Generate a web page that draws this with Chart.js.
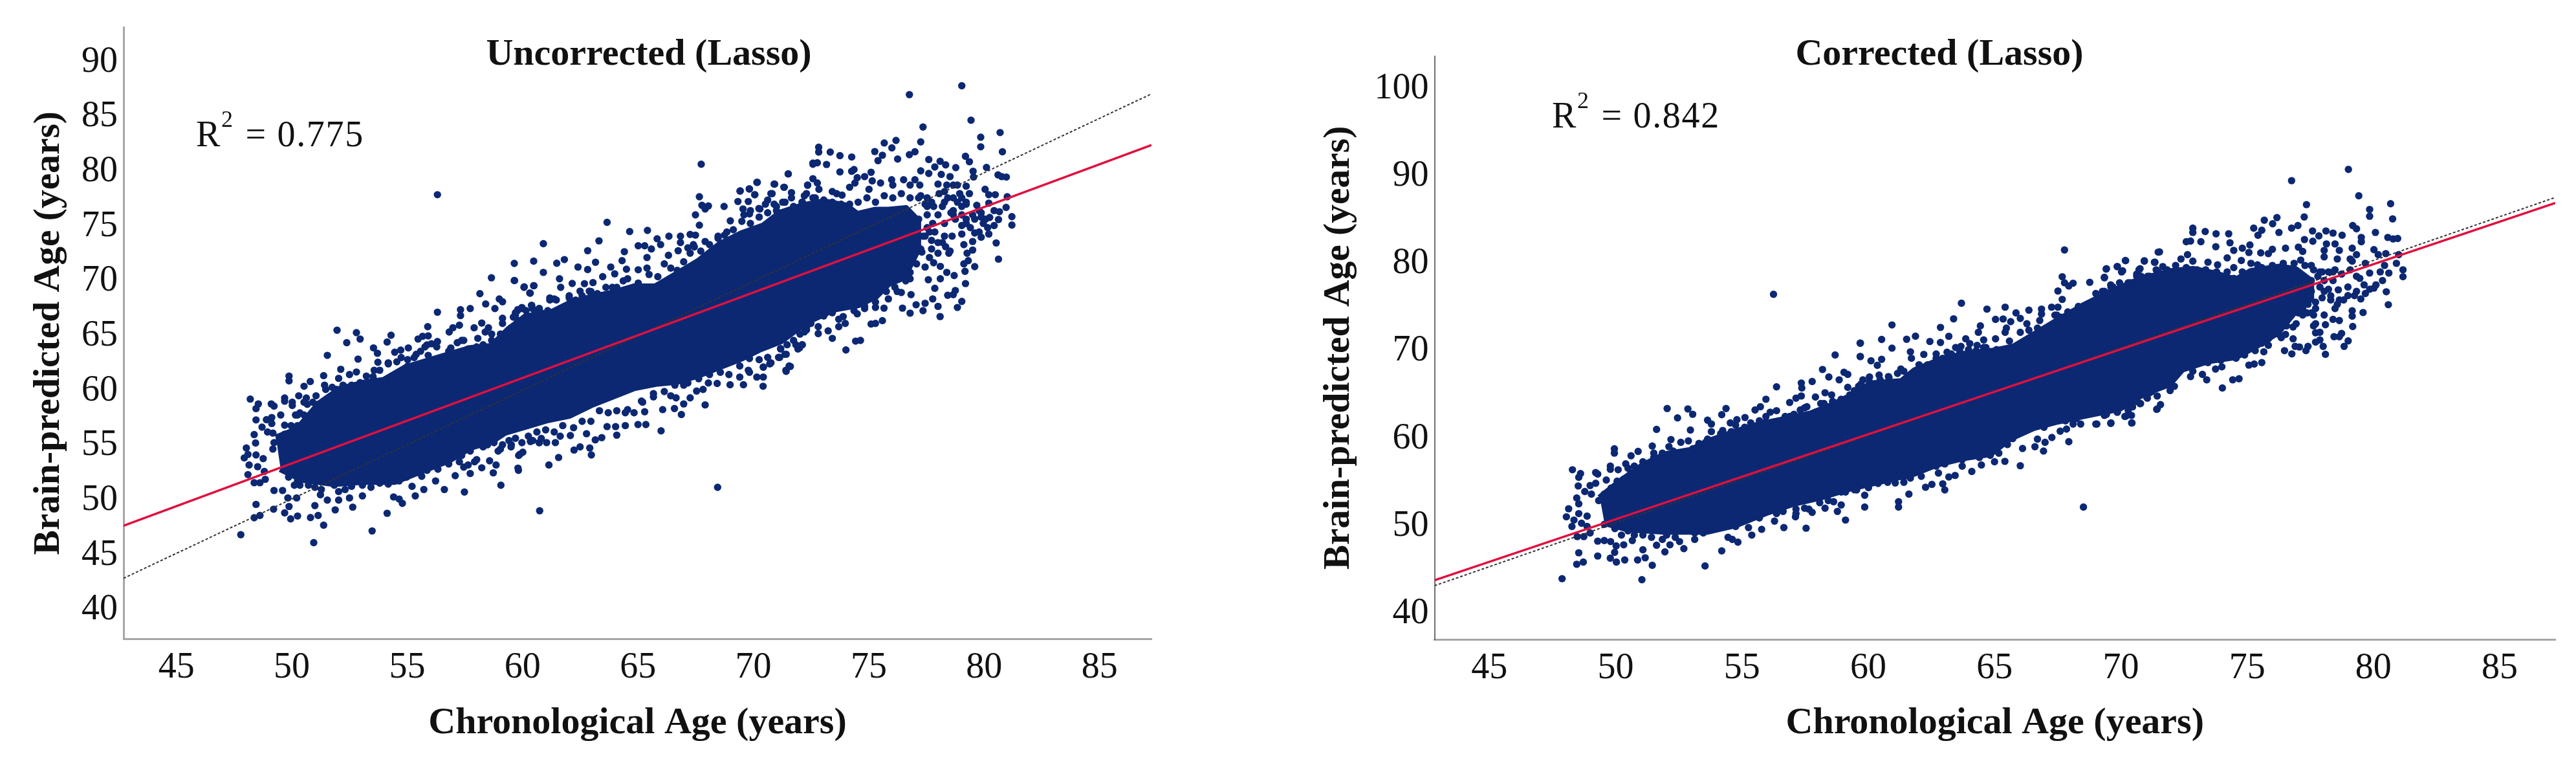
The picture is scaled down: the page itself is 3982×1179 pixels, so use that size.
<!DOCTYPE html>
<html><head><meta charset="utf-8">
<script src="https://cdn.jsdelivr.net/npm/chart.js@4/dist/chart.umd.min.js"></script>
<style>
html,body{margin:0;padding:0;background:#fff;width:3982px;height:1179px;overflow:hidden}
canvas{position:absolute;top:0;display:block}
</style></head><body>
<canvas id="left" width="1800" height="1179" style="left:0"></canvas>
<canvas id="right" width="1982" height="1179" style="left:2000px"></canvas>
<script>
// Where thousands of dots merge into a solid mass,
// the mass is recorded as its read upper and lower edges; visible separate dots are listed one by one.
const xTicks=[45,50,55,60,65,70,75,80,85];
const yTicksLeft=[40,45,50,55,60,65,70,75,80,85,90];
const yTicksRight=[40,50,60,70,80,90,100];
const xTitle="Chronological Age (years)";
const yTitle="Brain-predicted Age (years)";
const titleLeft="Uncorrected (Lasso)";
const titleRight="Corrected (Lasso)";
const r2Left="0.775";
const r2Right="0.842";

const fitLeft=[[42.71,47.69],[87.25,82.43]];
const identityLeft=[[42.71,42.9],[87.25,87.1]];
const fitRight=[[42.83,43.82],[87.2,86.93]];
const identityRight=[[42.83,43.2],[87.2,87.57]];

const massUpperLeft=[[49.32,55.66],[50.25,56.44],[51.19,58.77],[52.12,60.13],[53.24,60.71],[53.99,60.91],[54.93,62.07],[55.86,62.65],[56.8,63.24],[57.73,63.82],[58.66,64.01],[59.41,65.57],[60.15,66.74],[61.09,66.93],[62.02,67.9],[62.96,68.48],[63.89,68.87],[64.83,69.45],[65.76,69.45],[66.7,70.62],[67.63,71.78],[68.57,73.34],[69.5,74.31],[70.43,75],[71.18,76.2],[72.11,76.83],[73.05,77.22],[74,76.83],[74.5,76.06],[75.3,76.45],[75.85,76.45],[76.6,76.6],[77.1,75.5]];
const massLowerLeft=[[49.51,52.94],[50.44,51.97],[51.84,51.58],[53.06,51.78],[54.46,51.78],[55.86,52.94],[56.8,53.72],[57.73,54.89],[58.66,55.47],[59.22,56.25],[60.15,56.83],[61.09,57.41],[62.02,57.8],[62.96,58.77],[63.89,59.55],[64.83,60.33],[65.76,60.72],[66.7,60.91],[67.63,61.49],[68.57,62.27],[69.5,63.05],[70.24,63.82],[71.18,64.6],[72.3,66.35],[73.5,67.5],[74.55,67.9],[75.3,68.68],[75.85,69.84],[76.5,70.4],[77.1,72.9]];
const massUpperRight=[[49.38,53.17],[50.23,55.14],[51.08,56.87],[51.94,58.1],[52.96,58.6],[53.64,59.58],[54.84,60.81],[55.69,61.55],[56.54,62.05],[57.74,62.79],[58.59,63.77],[59.28,64.76],[60.13,66.23],[61.33,66.48],[61.84,67.71],[62.86,68.94],[63.97,69.68],[64.91,69.93],[65.76,70.42],[66.62,71.9],[67.47,73.38],[68.5,75.1],[69.52,76.59],[70.72,78.07],[72,79.06],[72.85,79.3],[73.7,78.81],[74.56,78.07],[75.15,79.06],[76.26,79.55],[76.9,79.3],[77.5,78]];
const massLowerRight=[[49.55,50.46],[50.49,49.72],[51.94,49.47],[53.64,49.47],[54.75,50.21],[56.03,51.69],[57.06,52.68],[58.17,53.42],[59.28,54.4],[60.39,55.14],[61.84,56.12],[62.69,57.11],[63.72,57.85],[64.83,58.34],[65.59,60.07],[66.53,61.3],[67.47,62.04],[68.67,62.78],[69.95,63.52],[70.89,65.2],[71.91,66.3],[72.42,68],[73.45,68.95],[74.56,69.44],[75.32,70.6],[76.2,72.2],[77,75],[77.5,76]];

const dotsLeft=[[47.79,46.87],[50.95,46.15],[53.48,47.22],[51.38,47.74],[48.37,48.42],[48.62,48.63],[48.45,49.64],[49.21,49.2],[49.69,48.87],[49.95,48.32],[49.88,49.45],[50.25,48.58],[50.81,48.44],[51.14,48.63],[51,49.53],[51.88,49.14],[52.64,49.39],[54.13,48.83],[60.74,49.06],[51.54,50.03],[52.03,50.03],[52.5,50.23],[53.06,50.42],[54.41,50.32],[54.79,49.74],[54.65,50.13],[55.35,50.42],[55.72,51],[55.21,51.29],[56.61,51],[57.48,50.77],[59.06,51.39],[59.82,52.75],[58.73,52.52],[58.23,52.98],[57.73,52.46],[57.08,52.26],[56.23,51.78],[55.63,52.2],[54.97,52.13],[49.23,50.91],[49.6,50.91],[49.83,50.23],[50.21,50.23],[51.24,50.52],[50.25,51.78],[49.86,52.13],[48.85,51.93],[48.62,51.62],[48.37,51.62],[48.1,52.36],[48.81,52.65],[48.52,53.08],[48.15,53.24],[47.94,53.88],[48.1,54.2],[48.03,54.79],[48.45,54.15],[48.76,53.82],[48.43,55.24],[48.37,56.01],[48.71,56.69],[48.45,57.35],[48.95,56.25],[49.18,56.15],[49.13,57.02],[48.9,57.37],[49.13,57.57],[49.52,57.8],[49.69,56.87],[48.45,58.38],[48.55,58.81],[48.2,59.25],[49.11,58.81],[49.23,58.61],[49.69,59.35],[49.69,59.06],[50.02,58.96],[50.02,58.67],[49.88,61.35],[49.88,60.91],[50.3,59.55],[50.53,60.42],[50.8,60.85],[50.63,59.35],[51.05,59.55],[50.25,57.8],[51.42,60.52],[51.38,61.39],[51.54,63.24],[51.96,65.53],[52.38,64.4],[52.8,65.31],[52.96,64.73],[52.87,62.9],[52.12,61.97],[52.03,61.14],[52.5,61.49],[52.8,61.72],[52.96,60.75],[53.23,61.35],[53.54,63.92],[53.71,63.43],[53.73,62.61],[54.13,64.46],[54.3,65.08],[53.57,61.88],[54.18,62.56],[54.46,63.53],[54.72,63.72],[55.05,63.92],[55.02,62.85],[55.47,64.73],[55.67,64.98],[55.91,65.02],[55.89,65.86],[56.31,67.18],[56.31,64.5],[55.86,64.2],[55.39,63.33],[55.91,63.24],[56.82,65.37],[56.98,65.76],[57.26,65.99],[57.31,67.41],[57.31,66.87],[57.73,67.51],[58.15,68.87],[58.4,67.93],[57.9,65.76],[58.23,66.19],[58.06,64.79],[58.52,65.76],[58.8,67.51],[58.99,68.38],[59.13,68.13],[59.13,66.63],[59.65,70.07],[58.65,70.32],[60.07,69.49],[60.49,69.59],[60.33,68.91],[59.79,67.41],[59.79,66.44],[60.39,67.8],[57.36,64.6],[56.89,63.92],[58.94,54.5],[58.57,53.62],[58.85,53.24],[57.92,53.53],[57.45,53.04],[59.88,54.21],[60.72,55.27],[60.35,55.47],
[56.31,77.9],[67.74,80.68],[71.51,79.8],[70.15,79.03],[70.9,78.87],[69.43,78.25],[69.83,78.42],[72.58,80.68],[67.66,77.71],[70.06,77.9],[69.33,77.28],[69.78,77.28],[71.34,78.58],[71.65,78.09],[70.81,78],[70.62,77.41],[72.35,78.77],[72.21,77.8],[72.38,76.87],[68.73,76.83],[67.77,76.93],[68.05,76.87],[67.91,76.6],[67.49,76.06],[67.66,75.12],[69,75.51],[69.55,76.6],[69.83,76.15],[70.28,76.6],[71,76.83],[71.37,77.22],[63.66,75.38],[60.9,73.43],[63.31,73.69],[62.82,72.79],[64.64,74.54],[65.41,74.64],[66.34,74.11],[65.83,73.88],[66.84,74.11],[66.84,73.53],[67.26,74.27],[67.49,74.21],[65.01,73.24],[65.29,73.24],[65.58,72.95],[65.98,73.34],[64.41,72.7],[64.31,71.88],[59.64,71.63],[60.48,71.84],[61.48,71.65],[61.81,71.98],[62.4,71.3],[62.82,71.07],[63.16,71.73],[60.9,70.81],[59.64,70.07],[60.06,69.45],[60.48,69.59],[60.31,68.93],[61.6,70.23],[61.65,69.45],[62.15,69.8],[62.68,69.78],[63.05,69.88],[62.49,69.1],[62.89,69.1],[63.82,71.3],[63.47,70.42],[63.99,70.68],[64.5,71.1],[65.01,71.05],[65.39,72.17],[66.32,72.37],[66.74,72.79],[67.16,73.05],[67.4,73.34],[67.91,73.63],[68.47,74.11],[68.75,74.21],[61.37,68.39],[61.18,68.48],[62.02,68.68],[59.97,67.61],[60.39,67.8],[60.72,67.51],
[61.14,53.24],[59.8,52.95],[61.56,53.92],[62.98,54.15],[62.91,54.79],[62.49,54.89],[62.23,54.6],[59.83,54.11],[60.01,54.4],[66,56.35],[63.43,55.73],[63.15,55.53],[64.08,55.96],[62.77,56.09],[62.07,55.92],[61.63,55.86],[61.42,55.28],[61.04,55.28],[60.72,55.28],[60.34,55.38],[59.5,54.89],[63.66,56.74],[64.03,56.74],[64.45,56.83],[65.34,56.93],[65,56.93],[66.88,57.84],[66.58,58.39],[66.07,58.29],[67.91,58.72],[66.98,58.81],[67.26,59.36],[66.65,59.36],[66.42,59.55],[65.29,58.09],[64.55,58.29],[65.15,59.07],[65.67,59.45],[67.54,59.98],[67.82,60.13],[68.99,60.56],[69.57,60.56],[70.42,60.42],[68.43,60.68],[68.05,60.72],[66.98,60.52],[70.15,61.26],[70.43,61.26],[69.41,61.26],[71.42,61.78],[71.6,62.23],[69.83,61.69],[70.43,62.17],[70.76,62.56],[69.83,62.95],[71.14,63.05],[71.42,63.34],[71.18,63.86],[71.93,63.82],[72.12,64.21],[72.3,65.57],
[79.03,87.84],[76.76,87.03],[79.43,84.7],[77.35,84.08],[79.85,83.15],[80.69,83.57],[79.85,82.27],[77.25,82.72],[76.18,82.85],[75.67,82.62],[76,82.17],[80.79,81.82],[77,81.82],[76.76,81.55],[75.26,81.84],[75.59,81.5],[75.4,81.01],[76.25,81.15],[72.83,82.23],[72.83,81.79],[73.33,81.79],[73.75,81.46],[74.26,81.34],[72.58,80.78],[72.77,80.81],[73.17,80.66],[73.75,79.98],[71.51,79.8],[74.36,80.19],[74.26,80.04],[79.19,81.4],[79.36,80.91],[77.6,81.11],[78.09,80.95],[78.33,80.62],[77.86,80.43],[78.77,80.37],[77.25,80.08],[77.6,79.84],[80.1,80.39],[79.52,80.04],[79.54,79.51],[80.6,79.71],[80.76,79.55],[80.96,79.51],[70.17,79.03],[70.92,78.87],[69.82,78.43],[69.42,78.23],[71.32,78.58],[70.76,78],[70.06,77.9],[72.35,78.78],[72.58,79.36],[72.77,78.97],[72.84,78.39],[73.42,78.19],[73.84,77.86],[73.61,77.99],[74.5,79.46],[75.1,79.94],[74.82,79.55],[75.15,79.16],[74.17,78.58],[74.4,78.97],[75.51,78.97],[75.99,79.26],[76.51,79.26],[77,79.26],[77.21,78.78],[76.04,78.78],[76.79,78.78],[78.14,79.75],[78.52,79.55],[78,78.87],[78.38,78.78],[78.66,78.78],[79.22,78.68],[80.04,78.39],[80.2,77.9],[80.48,77.9],[81,77.71],[79.36,78],[78.05,78],[78.42,77.61],[79.03,77.61],[79.03,76.83],[78.66,76.45],[79.68,76.93],[80.2,77.13],[80.95,76.74],[80.43,76.45],[80.66,76.35],[81.2,75.9],[81.2,75.13],[80.24,75.82],[80.62,75.63],[79.87,75.86],[79.96,75.28],[80.43,75.09],[80.2,74.31],[79.87,74.02],[79.59,74.41],[80.52,73.5],[80.62,72.02],[79.5,73.63],[79.03,74.31],[78.61,74.12],[79.12,73.34],[79.5,72.85],[79.26,72.56],[79.31,71.88],[79.59,71.34],[79.12,71.59],[79.17,70.91],[79.19,69.79],[78.7,70.52],[78.38,70.81],[78.1,70.23],[77.58,70.14],[78.1,71.36],[77.81,71.69],[78.75,69.16],[78.66,68.78],[78.42,68.72],[79.03,68.16],[78.84,67.61],[77.86,69.36],[77.77,68.39],[77.44,67.99],[78,67.71],[78.09,66.78],[77.35,67.32],[77.05,67.86],[76.83,68.78],[76.79,67.09],[76.46,67.55],[75.66,67.55],[75.85,68.39],[76.41,68.97],[75.29,67.61],[75.59,66.41],[75.29,66.15],[75.1,66.1],[74.64,64.6],[74.43,64.54],[74.01,63.73],[73.89,66.78],[73.98,66.15],[73.42,64.79],[72.81,65.22],[72.81,65.86],[73.24,65.48],[73.7,65.86],[73.05,66.83],[74.5,67.03],[74.82,67.51],[72,63.92],[72.11,64.21],[71.37,63.34],[71.09,63.05],[71.55,62.27],[71.41,61.88],[70.71,62.46],[70.43,62.17],[77.3,72.66],[76.69,71.98],[77.07,71.59],[77.44,71.3],[76.69,71.01],[76.79,70.23],[76.23,70.81],[76.23,69.07],[77.16,77.61],[77.72,77.03],[77.53,76.06],[78.19,76.83],[77.16,75.67],[77.63,74.5],[78.19,73.53],[78.47,72.56],[77.72,73.73],[77.35,74.12],[78.75,75.67],[78.28,75.28],[79.22,75.28],[79.59,75.67],[79.22,77.03],[78.66,77.61],[77.53,77.61],[79.78,76.45],[68.45,51.2]];

const fringeLeft=[[49.23,55.27],[49.18,54.69],[49.46,55.66],[49.69,56.05],[49.97,56.83],[50.16,57.8],[50.35,57.99],[50.53,57.8],[50.25,56.83],[50.44,56.44],[50.72,57.22],[50.67,58.77],[50.53,58.96],[50.91,58.96],[51.14,58.77],[51.47,60.13],[51.75,60.32],[51.94,60.13],[52.22,60.52],[52.59,60.52],[52.96,60.52],[53.43,60.71],[53.52,61.29],[53.81,61.88],[53.99,60.91],[54.18,62.46],[54.55,62.65],[54.74,63.04],[55.02,62.26],[55.3,63.04],[55.58,63.62],[55.77,64.01],[56.05,64.3],[56.28,64.01],[56.61,63.04],[56.8,63.62],[57.17,64.4],[57.45,64.6],[57.64,63.82],[58.01,64.01],[58.29,64.21],[58.66,64.6],[58.38,65.37],[58.66,65.18],[59.04,65.18],[59.41,65.37],[59.69,67.12],[59.97,67.51],[59.79,65.57],[60.35,65.76],[60.53,67.12],[60.72,67.51],[59.13,66.15],[59.6,66.73],
[49.65,52.85],[49.97,52.94],[50.35,52.94],[50.63,52.17],[50.35,51.39],[50.11,51.39],[50.72,51.39],[51,51.2],[51.28,51],[51.84,51.39],[52.03,50.81],[52.31,51],[52.59,51.29],[53.06,51.39],[53.43,51.2],[53.81,51.58],[54.18,51.49],[54.65,51.78],[54.93,52.36],[55.39,52.56],[55.86,52.75],[56.33,52.85],[56.8,53.33],[57.26,53.53],[57.64,53.24],[58.01,53.72],[57.36,54.11],[58.29,54.89],[57.73,54.5],[59.13,55.08],[59.51,55.08],[59.97,55.27],[60.44,55.47],[60.81,55.66],[59.04,54.69],[58.76,55.27],[58.48,55.08],
[59.5,65.76],[59.69,66.93],[59.78,67.32],[60.15,67.32],[60.43,67.51],[60.81,67.12],[61.09,67.32],[61.18,68.29],[61.46,68.29],[61.74,67.51],[62.02,68.48],[62.3,68.29],[62.58,68.68],[62.96,69.07],[63.24,68.87],[63.61,69.45],[63.89,69.45],[64.08,69.45],[64.36,70.04],[64.55,70.23],[64.83,69.45],[65.01,69.84],[65.39,71.2],[65.48,70.62],[65.86,70.42],[66.14,71.59],[66.42,71.2],[66.7,71],[66.98,71.78],[67.26,72.56],[67.44,73.14],[67.72,72.75],[68.1,73.34],[68.47,73.92],[68.85,74.5],[69.13,74.7],[69.5,75.47],[69.87,75.28],[70.25,75.86],[70.62,76.25],[71,76.44],[71.37,76.25],[71.74,76.83],[72.12,77.22],[72.49,76.44],[72.68,77.61],
[59.41,55.47],[59.69,55.67],[60.25,55.86],[60.62,56.25],[61,56.44],[61.37,56.25],[61.74,56.83],[62.21,56.64],[62.58,57.22],[62.96,57.22],[63.33,58.19],[63.71,58],[64.08,58.19],[64.45,58],[64.83,58],[65.2,58.97],[65.67,59.75],[66.14,59.94],[66.6,60.52],[67.16,60.72],[67.63,61.1],[68.1,61.49],[68.57,61.69],[68.94,61.49],[69.41,62.27],[69.78,61.88],[70.25,62.85],[70.62,63.05],[71.18,63.82],[71.84,64.21],[72.21,65.38],[72.49,66.15],
[69.59,76.06],[69.87,76.45],[70.24,76.64],[70.52,77.03],[70.9,77.03],[71.27,77.22],[71.65,77.61],[72.11,77.22],[72.3,78],[72.58,77.61],[73.05,77.42],[73.42,77.22],[73.8,77.03],[74.17,77.03],[74.54,77.22],[74.92,77.61],[75.01,78.39],[75.29,77.22],[75.67,77.81],[76.04,77.61],[76.41,78],[76.79,77.61],[77.25,77.81],[77.53,76.83],[77.72,77.22],
[71.46,64.21],[71.74,64.6],[72.02,65.18],[72.3,65.77],[72.39,66.93],[72.67,66.74],[73.05,67.32],[73.42,67.13],[73.7,66.54],[73.98,67.71],[74.36,67.32],[74.82,67.71],[75.29,68.1],[75.76,69.07],[76.13,69.46],[76.6,70.04],[76.79,70.81],[76.41,71.2],[76.04,71.59],
[77.44,77.03],[77.81,76.83],[78.28,77.22],[78.56,76.25],[78,76.06],[77.77,75.28],[77.53,74.89],[77.86,74.5],[77.44,74.12],[78.28,74.12],[78,73.53],[78.33,73.15],[78.52,72.76],[77.72,72.95],[78,72.56],[77.63,72.17],[77.25,72.95],[78.66,76.06],[79.03,76.06],[79.22,77.22],[78.94,78],[78.84,77.22],[78.84,78.78],[78.28,78.19],[79.22,75.67],[79.5,76.06],[79.87,76.25],[80.06,75.67],[79.4,74.89],[79.03,75.09],[79.78,74.5],[80.15,74.89]];

const dotsRight=[[47.88,44],[51.04,43.88],[53.54,45.45],[51.45,45.53],[48.72,45.9],[48.46,45.65],[48.54,46.96],[49.29,46.59],[49.79,46.34],[50.03,45.9],[50.36,46.14],[49.96,47.01],[50.87,46.14],[51.17,46.39],[51.08,47.3],[51.62,47.82],[51.95,47.06],[52.7,47.43],[54.2,47.18],[52.15,47.87],[53.13,48.49],[52.53,48.24],[54.45,48.73],[54.84,48.17],[54.62,48.49],[55.39,48.98],[55.78,49.64],[55.26,49.84],[56.66,49.84],[57.54,49.77],[59.1,50.7],[58.78,51.69],[58.29,52.06],[57.78,51.57],[57.12,51.07],[56.29,50.58],[55.01,50.58],[49.29,48.29],[49.55,48.36],[49.8,48.24],[50.02,47.75],[50.32,47.87],[50.66,48.36],[48.48,48.81],[48.74,48.81],[48.99,49.23],[48.87,49.97],[48.27,49.97],[48.65,50.34],[48.05,51.07],[48.35,50.7],[48.14,51.99],[48.54,51.44],[48.87,51.15],[48.54,52.55],[48.46,53.22],[48.78,53.96],[48.52,54.6],[48.99,54.65],[49.21,54.9],[49.04,53.66],[49.63,55.27],[49.82,54.35],[48.29,56.45],[48.61,56.01],[48.54,55.59],[49.21,56.13],[49.29,55.96],[49.79,56.87],[49.79,56.5],[50.1,56.45],[50.4,57.12],[49.95,58.84],[49.95,58.35],[50.61,58.05],[50.89,58.55],[51.62,61.06],[52.04,63.45],[52.45,62.37],[52.86,63.4],[53.05,62.79],[52.96,60.99],[51.45,59.16],[51.51,58.35],[52.19,59.9],[52.11,59.09],[52.58,59.58],[52.88,59.75],[53.3,59.46],[53.64,62.12],[53.79,61.68],[53.79,60.81],[53.64,59.95],[54.2,62.74],[54.37,63.45],[54.24,60.94],[54.54,61.8],[54.8,62.17],[55.12,62.42],[55.11,61.31],[55.52,63.28],[55.73,63.65],[55.95,64.51],[56.37,65.92],[56.12,63.03],[56.37,63.2],[55.95,61.92],[56.29,61.92],[56.89,64.14],[57.14,64.63],[57.35,64.88],[57.35,66.36],[57.37,65.79],[57.78,66.53],[56.89,62.54],[57.31,63.28],[57.57,63.65],[57.91,64.76],[58.12,64.02],[58.29,65.25],[58.55,65],[58.19,67.91],[58.44,67.05],[58.69,69.57],[58.85,66.73],[59.04,67.59],[59.19,67.35],[59.68,70.92],[59.68,69.39],[59.19,65.87],[59.62,65.99],[58.63,52.8],[58.93,52.43],[59.1,53.91],[57.48,52.06],[57.14,51.44],
[56.25,76.5],[67.77,81.57],[63.69,75.48],[65.42,75.03],[64.7,74.81],[66.36,74.69],[65.85,74.37],[66.86,74.81],[66.86,74.24],[67.26,75.03],[67.51,75.03],[67.68,78.51],[67.77,77.82],[68.11,77.77],[67.94,77.45],[67.51,76.88],[67.68,75.92],[68.77,77.87],[69.35,78.44],[69.43,79.42],[69.86,79.67],[70.18,80.36],[70.07,79.18],[70.93,80.34],[71.35,80.16],[71.48,81.32],[70.76,79.42],[70.63,78.81],[69.01,76.59],[69.6,77.57],[70.37,77.82],[63.38,73.7],[62.86,72.72],[60.94,73],[60.53,71.34],[59.69,70.92],[59.69,69.39],[60.94,70.35],[61.52,71.36],[61.87,71.71],[62.44,71.11],[62.86,70.99],[63.19,71.7],[60.11,68.9],[60.53,69.07],[60.36,68.38],[61.67,69.93],[61.71,69.19],[62.2,69.63],[62.69,69.68],[63.12,69.88],[64.44,72.89],[64.36,72.15],[65.04,73.63],[65.34,73.68],[65.64,73.38],[66.02,73.75],[65.47,72.64],[66.28,73.14],[66.79,73.5],[63.86,71.41],[64.02,70.87],[63.46,70.42],[63.67,70.55],[64.57,71.29],[65.04,71.41],[64.27,70.05],[64.66,70.42],[65.08,70.05],[61.29,67.96],[60.43,67.27],[60.05,67.05],[60.8,67.1],[59.79,66.73],[67.9,74.49],[67.47,74.12],[68.58,75.23],
[59.86,52.18],[61.2,52.79],[61.2,52.18],[68.52,52.18],[61.61,53.66],[59.86,53.53],[62.27,54.45],[62.52,54.77],[62.95,54.84],[63.03,54.15],[66.02,56.91],[63.44,55.8],[63.19,55.63],[62.78,56.07],[62.1,55.7],[61.67,55.5],[61.41,55.01],[61.07,54.94],[60.77,55.01],[60.39,54.89],[60.01,54.4],[59.54,54.15],[64.1,56.25],[63.72,56.86],[64.48,56.99],[65,57.36],[65.41,57.41],[66.11,58.88],[66.6,59.08],[66.94,58.59],[67.94,59.65],[67,59.58],[67.27,60.14],[67.6,60.86],[67.85,61.1],[66.7,59.95],[65.72,60],[69.01,61.67],[69.6,61.75],[70.43,61.79],[68.41,61.67],[68.11,61.67],[70.2,62.58],[69.86,63.03],[70.46,63.64],[70.76,64],[71.44,63.4],[71.05,64.63],[71.18,65.37],
[79.01,90.77],[76.76,89.49],[79.42,87.76],[77.35,86.75],[80.68,86.85],[79.85,86.2],[79.85,85.42],[77.26,85.34],[80.76,85.12],[76.18,85.27],[75.68,84.97],[76.01,84.56],[75.26,84.06],[75.58,83.82],[75.43,83.25],[76.26,83.57],[76.76,84.06],[77.01,84.36],[79.18,84.36],[79.33,83.99],[80.08,83.57],[72.85,84.06],[72.85,83.57],[73.34,83.67],[73.77,83.42],[74.27,83.42],[72.59,82.51],[72.76,82.58],[73.17,82.51],[73.76,81.94],[74.32,82.39],[71.53,81.35],[70.19,80.34],[70.93,80.29],[69.42,79.38],[69.86,79.67],[69.35,78.39],[70.03,79.06],[70.72,79.3],[71.33,80.17],[71.66,79.67],[72.38,80.54],[72.64,81.03],[72.85,80.29],[73.45,80.17],[73.83,79.87],[74.47,81.52],[74.21,80.66],[74.47,79.55],[74.81,81.77],[75.11,82.14],[75.07,81.28],[74.77,80.36],[75.54,81.23],[76,81.64],[76.52,81.77],[75.84,81.15],[75.41,79.87],[77.03,81.89],[77.2,81.4],[77.27,82.76],[77.59,83.74],[77.84,83.17],[77.6,82.56],[78.12,83.74],[78.4,83.5],[78.76,83.25],[79.52,83],[79.52,82.51],[80.57,83],[80.78,82.83],[80.96,82.88],[80.02,81.6],[80.19,81.03],[80.49,81.15],[81,81.03],[79.68,80.04],[79.16,81.77],[79.33,81.03],[79.16,80.29],[78.14,82.26],[78.48,82.26],[78.05,81.52],[78.65,81.52],[78.05,80.78],[78.57,80.54],[77.12,80.41],[77.54,79.8],[79.08,80.54],[80.44,79.8],[80.91,80.04],[81.17,79.3],[81.17,78.51],[80.61,78.93],[80.27,79.06],[79.85,78.93],[79.46,78.32],[77.88,79.06],[78.48,79.3],[80.36,78.07],[80.02,77.21],[79.63,77.58],[80.51,76.79],[80.59,75.31],[78.61,77.01],[78.99,77.33],[79.33,76.84],[78.99,76.35],[79.5,75.97],[78.65,75.85],[78.31,76.34],[78.05,76.84],[78.57,75.36],[79.16,74.62],[79.59,74.42],[79.16,74],[79.18,72.82],[78.65,73.51],[78.4,73.63],[78.1,73.02],[78.05,74.13],[77.71,74.87],[77.41,75.36],[77.63,72.89],[77.88,72.15],[77.71,72.1],[78.44,71.66],[78.74,72.03],[78.65,71.66],[79,71.17],[78.84,70.55],[77.71,71.04],[77.88,71.29],[78.01,70.55],[78.1,69.64],[77.41,70.55],[77.33,70.06],[77.07,70.48],[76.82,71.41],[76.9,70.55],[76.77,69.69],[76.48,70.06],[76.35,71.54],[76.82,72.77],[77.03,74.37],[76.56,72.89],[75.84,70.67],[75.66,69.93],[75.58,68.7],[75.28,68.53],[75.07,68.41],[75.32,70.06],[74.9,69.56],[74.56,69.2],[74.68,66.85],[74.43,66.73],[74.02,65.79],[74,68.21],[73.75,67.96],[73.96,68.95],[73.4,66.73],[73.23,67.35],[72.85,67.72],[72.76,67.1],[73.02,68.7],[71.95,65.5],[72.12,65.99],[71.57,63.89],[71.42,63.35],[71.21,65.37],[71.44,64.88],[71.02,64.76],[70.78,64.02],[70.46,63.65],[70.42,62.66],[70.44,61.8],[70.16,62.54],[69.86,63.03],[69.61,61.8],[69.05,61.67],[69.35,62.66]];

const fringeRight=[[49.33,52.92],[49.55,53.66],[49.72,53.66],[50.06,55.14],[50.32,55.39],[50.57,55.88],[50.49,56.62],[50.74,56.87],[51.08,57.36],[51.51,57.86],[51.85,58.35],[52.28,58.59],[52.62,58.35],[53.05,58.84],[53.39,58.84],[53.56,59.58],[53.9,59.58],[54.16,60.57],[54.58,60.81],[54.75,61.55],[55.01,60.81],[55.35,61.8],[55.69,62.05],[55.95,62.54],[56.29,61.8],[56.71,62.54],[57.06,62.79],[57.48,63.53],[57.91,63.03],[58.25,64.02],[58.59,64.26],[58.93,64.51],[59.27,65],[59.62,65.25],
[49.55,50.21],[49.97,49.72],[50.23,48.98],[50.49,49.47],[50.74,48.98],[51.08,48.98],[51.42,48.73],[51.85,48.49],[52.02,48.98],[52.36,48.73],[52.79,49.47],[53.13,49.23],[53.47,49.23],[53.9,49.72],[54.33,49.97],[54.75,49.97],[55.18,50.7],[55.69,50.95],[56.37,51.44],[56.63,51.69],[57.14,51.94],[57.65,51.94],[58.08,52.68],[58.42,52.92],[58.93,53.91],[59.45,54.16],
[59.45,65.49],[59.71,66.23],[60.05,66.48],[60.47,66.73],[60.82,66.97],[61.16,67.46],[61.41,67.71],[61.75,67.46],[62.01,68.45],[62.35,68.45],[62.69,69.19],[62.95,69.19],[63.29,69.68],[63.63,69.93],[63.97,70.18],[64.31,70.67],[64.57,70.42],[64.83,69.93],[65.08,70.18],[65.42,72.15],[65.59,71.16],[66.02,72.15],[66.36,72.39],[66.7,72.64],[67.04,72.64],[67.39,74.12],[67.64,73.88],[67.98,74.37],[68.32,75.11],[68.67,75.35],[69.01,75.85],[69.35,76.83],[69.69,77.33],[70.03,77.08],[70.46,77.82],[70.8,78.56],[71.14,78.56],[71.48,79.05],
[59.45,54.64],[59.79,54.89],[60.22,55.14],[60.65,55.38],[60.99,55.88],[61.41,55.63],[61.84,56.37],[62.27,56.62],[62.69,56.86],[63.03,57.11],[63.38,57.6],[63.72,57.6],[64.06,58.1],[64.4,57.85],[64.83,58.1],[65.17,58.34],[65.51,59.33],[65.76,60.31],[66.11,60.81],[66.53,61.3],[66.96,61.3],[67.39,62.04],[67.81,62.04],[68.24,62.29],[68.67,62.78],[69.09,63.03],[69.43,62.78],[69.77,63.52],[70.29,63.27],[70.63,64.26],[71.14,65.25],
[69.27,76.84],[69.61,77.33],[69.95,77.82],[70.29,77.82],[70.63,78.56],[71.06,78.56],[71.4,79.3],[71.83,79.3],[72.17,79.8],[72.59,79.55],[73.02,79.3],[73.36,79.3],[73.79,79.06],[74.21,79.06],[74.47,78.32],[74.81,79.06],[75.15,80.04],[75.58,79.55],[76,79.8],[76.43,80.04],[76.86,80.04],[77.29,79.8],[77.63,79.3],[77.97,79.06],[78.4,79.06],
[69.18,63.52],[69.52,64.26],[69.95,64.76],[70.29,65.25],[70.63,65.99],[70.97,66.73],[71.31,66.73],[71.57,66.73],[71.91,66.98],[72.25,67.72],[72.34,68.7],[72.68,68.95],[73.11,69.2],[73.45,68.7],[73.87,69.2],[74.3,69.44],[74.81,69.69],[75.15,70.43],[75.58,70.92],[75.84,71.41],[75.92,72.4],[76.26,71.91],[76.52,71.91],[76.94,73.14],[77.2,74.13],[77.54,74.37],
[77.2,78.07],[77.54,78.07],[77.8,78.56],[78.05,78.07],[78.22,79.06],[77.88,77.33],[77.54,76.84],[77.2,76.35],[78.22,77.08],[77.97,76.1],[78.31,75.85],[77.71,75.6],[77.63,74.13],[77.71,73.14],[77.2,74.87],[77.37,74.37],[78.4,78.07],[78.74,78.81],[79.08,79.3],[79.33,78.56],[79.85,77.08],[80.1,77.58],[79.68,76.59],[79.25,76.35],[78.82,75.85],[78.48,74.87]];

const NAVY="#0C2873", RED="#E0103F", DOT="#333333", INK="#111111", SERIF="'Liberation Serif', serif";
const toXY=a=>a.map(p=>({x:p[0],y:p[1]}));
function makeChart(id,cfg){
  const panelText={id:"panelText",afterDraw(c){
    const g=c.ctx;g.save();g.fillStyle=INK;g.textBaseline="alphabetic";
    g.font="bold 58px "+SERIF;g.textAlign="center";g.fillText(cfg.title,cfg.titleX,100);
    g.textAlign="left";g.letterSpacing="1.7px";let x=cfg.r2X,y=cfg.r2Y;
    g.font="56px "+SERIF;g.fillText("R",x,y);x+=g.measureText("R").width;
    g.font="36px "+SERIF;g.fillText("2",x,y-30);x+=g.measureText("2").width+2;
    g.font="56px "+SERIF;g.fillText(" = "+cfg.r2,x,y);g.restore();}};
  new Chart(document.getElementById(id),{type:"scatter",
    data:{datasets:[
      {label:"Fit",data:toXY(cfg.fit),showLine:true,borderColor:RED,borderWidth:3.5,pointRadius:0,order:1},
      {label:"Identity",data:toXY(cfg.identity),showLine:true,borderColor:DOT,borderWidth:2,borderDash:[4,3],pointRadius:0,order:2},
      {label:"Individual dots",data:toXY(cfg.dots.concat(cfg.fringe)),backgroundColor:NAVY,borderWidth:0,pointRadius:5.7,order:3},
      {label:"Solid mass of dots",data:toXY(cfg.upper.concat(cfg.lower.slice().reverse())),showLine:true,fill:"shape",
       backgroundColor:NAVY,borderColor:NAVY,borderWidth:12,borderJoinStyle:"round",pointRadius:0,order:4}
    ]},
    plugins:[panelText],
    options:{responsive:false,animation:false,events:[],
      layout:{padding:{left:0,right:cfg.padRight,top:cfg.top,bottom:0}},
      plugins:{legend:{display:false},title:{display:false},tooltip:{enabled:false}},
      scales:{
        x:{type:"linear",min:cfg.xMin,max:cfg.xMax,
          afterBuildTicks:s=>{s.ticks=xTicks.map(v=>({value:v}));},
          afterFit:s=>{s.height=cfg.bottomH;},
          grid:{display:false,drawTicks:false},border:{display:true,color:"#A6A6A6",width:3},
          ticks:{color:INK,font:{family:SERIF,size:56},padding:12,maxRotation:0,autoSkip:false},
          title:{display:true,text:xTitle,color:INK,font:{family:SERIF,size:58,weight:"bold"},padding:{top:0,bottom:26}}},
        y:{type:"linear",min:cfg.yMin,max:cfg.yMax,
          afterBuildTicks:s=>{s.ticks=cfg.yTicks.map(v=>({value:v}));},
          afterFit:s=>{s.width=cfg.leftW;},
          grid:{display:false,drawTicks:false},border:{display:true,color:cfg.yAxisColor,width:cfg.yAxisW},
          ticks:{color:INK,font:{family:SERIF,size:56},padding:9,autoSkip:false},
          title:{display:true,text:yTitle,color:INK,font:{family:SERIF,size:57.5,weight:"bold"},padding:{top:cfg.yTitlePad,bottom:0}}}
      }}});
}
makeChart("left",{title:titleLeft,titleX:1003,r2:r2Left,r2X:303,r2Y:226,fit:fitLeft,identity:identityLeft,dots:dotsLeft,fringe:fringeLeft,upper:massUpperLeft,lower:massLowerLeft,
  xMin:42.71,xMax:87.25,yMin:37.38,yMax:93.15,yTicks:yTicksLeft,padRight:20,top:30,bottomH:192,leftW:191,yAxisColor:"#A6A6A6",yAxisW:3,yTitlePad:42});
makeChart("right",{title:titleRight,titleX:998,r2:r2Right,r2X:399,r2Y:197,fit:fitRight,identity:identityRight,dots:dotsRight,fringe:fringeRight,upper:massUpperRight,lower:massLowerRight,
  xMin:42.83,xMax:87.2,yMin:37.06,yMax:103.7,yTicks:yTicksRight,padRight:32,top:87,bottomH:191,leftW:217.5,yAxisColor:"#707070",yAxisW:2,yTitlePad:36});
</script>
</body></html>
